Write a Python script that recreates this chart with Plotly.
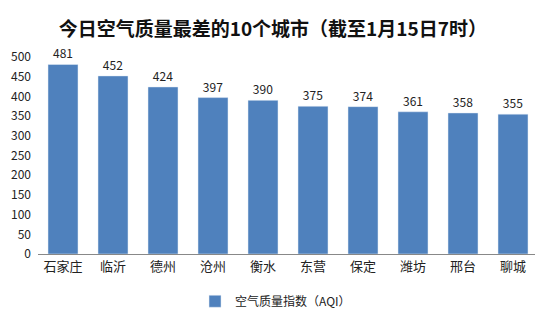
import plotly.graph_objects as go

cities = ["石家庄", "临沂", "德州", "沧州", "衡水", "东营", "保定", "潍坊", "邢台", "聊城"]
aqi = [481, 452, 424, 397, 390, 375, 374, 361, 358, 355]
y_ticks = [0, 50, 100, 150, 200, 250, 300, 350, 400, 450, 500]

fig = go.Figure()
fig.add_trace(go.Bar(
    x=list(range(len(cities))), y=aqi, name="空气质量指数（AQI）",
    marker_color="#4F81BD", width=0.6,
    text=[str(v) for v in aqi], textposition="outside",
    textfont=dict(size=12, color="#222222"), cliponaxis=False,
))
fig.update_layout(
    width=535, height=309,
    margin=dict(l=38, r=0, t=57, b=55, autoexpand=False),
    paper_bgcolor="white", plot_bgcolor="white",
    font=dict(family="Noto Sans CJK SC, sans-serif", size=12, color="#222222"),
    title=dict(text="<b>今日空气质量最差的10个城市（截至1月15日7时）</b>",
               x=0.51, xanchor="center", yref="container", y=0.905, yanchor="middle",
               font=dict(size=19, color="#111111")),
    showlegend=True,
    legend=dict(orientation="h", xref="container", x=0.515, xanchor="center",
                yref="container", y=0.025, yanchor="middle",
                font=dict(size=12), itemwidth=30),
    bargap=0.4,
)
fig.update_xaxes(
    tickmode="array", tickvals=list(range(len(cities))), ticktext=cities,
    range=[-0.5, 9.44], showline=True, linecolor="#888888", linewidth=1,
    showgrid=False, ticks="", tickfont=dict(size=13), automargin=False,
)
fig.update_yaxes(
    range=[0, 500], tickvals=y_ticks, showgrid=False, zeroline=False,
    showline=False, ticks="", ticklabelstandoff=6, tickfont=dict(size=12),
    automargin=False,
)
fig.write_html("out.html")
